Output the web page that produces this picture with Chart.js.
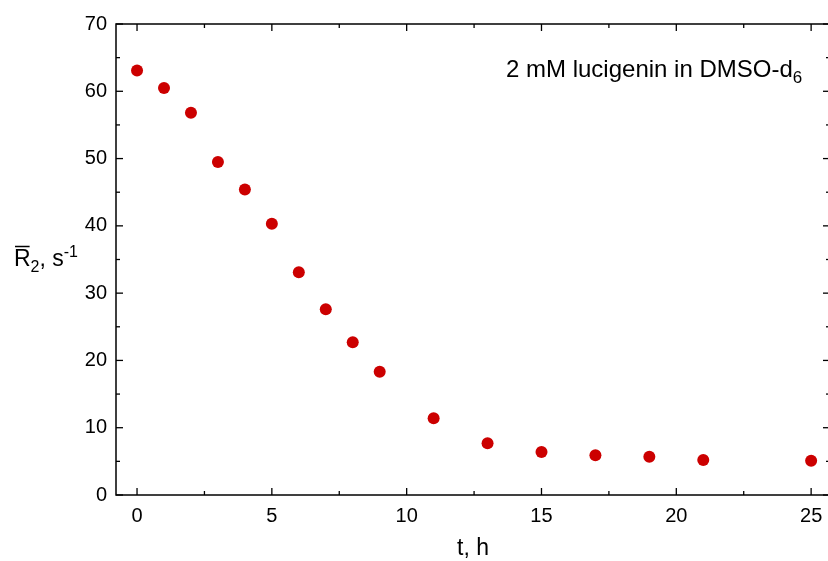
<!DOCTYPE html>
<html>
<head>
<meta charset="utf-8">
<script src="https://cdn.jsdelivr.net/npm/chart.js@4/dist/chart.umd.min.js"></script>
<style>
  html, body { margin: 0; padding: 0; background: #fff; overflow: hidden; }
  #wrap { width: 836px; height: 561px; }
</style>
</head>
<body>
<div id="wrap"><canvas id="chart" width="836" height="561"></canvas></div>
<script>
// time, h
var hours = [0, 1, 2, 3, 4, 5, 6, 7, 8, 9, 11, 13, 15, 17, 19, 21, 25];
// mean R2, s^-1
var r2 = [63.1, 60.5, 56.8, 49.5, 45.4, 40.3, 33.1, 27.6, 22.7, 18.3, 11.4, 7.7, 6.4, 5.9, 5.7, 5.2, 5.1];

var xTicks = [0, 5, 10, 15, 20, 25];
var yTicks = [0, 10, 20, 30, 40, 50, 60, 70];
var xMinorTicks = [2.5, 7.5, 12.5, 17.5, 22.5];
var yMinorTicks = [5, 15, 25, 35, 45, 55, 65];

var fontFamily = "'Liberation Sans', Arial, sans-serif";

var points = [];
for (var i = 0; i < hours.length; i++) {
    points.push({x: hours[i], y: r2[i]});
}

function line(ctx, x1, y1, x2, y2) {
    ctx.beginPath();
    ctx.moveTo(x1, y1);
    ctx.lineTo(x2, y2);
    ctx.stroke();
}

// frame with inward ticks on all four sides, like the original plot
var framePlugin = {
    id: 'frame',
    afterDraw: function(chart) {
        var ctx = chart.ctx;
        var a = chart.chartArea;
        var xs = chart.scales.x, ys = chart.scales.y;
        ctx.save();
        ctx.strokeStyle = '#000';
        ctx.lineWidth = 1.5;
        ctx.strokeRect(a.left, a.top, a.right - a.left, a.bottom - a.top);
        ctx.lineWidth = 1.3;
        xTicks.forEach(function(v) {
            var p = xs.getPixelForValue(v);
            line(ctx, p, a.bottom, p, a.bottom - 7);
            line(ctx, p, a.top, p, a.top + 7);
        });
        xMinorTicks.forEach(function(v) {
            var p = xs.getPixelForValue(v);
            line(ctx, p, a.bottom, p, a.bottom - 4);
            line(ctx, p, a.top, p, a.top + 4);
        });
        yTicks.forEach(function(v) {
            var p = ys.getPixelForValue(v);
            line(ctx, a.left, p, a.left + 7, p);
            line(ctx, a.right, p, a.right - 7, p);
        });
        yMinorTicks.forEach(function(v) {
            var p = ys.getPixelForValue(v);
            line(ctx, a.left, p, a.left + 4, p);
            line(ctx, a.right, p, a.right - 4, p);
        });

        // y axis title: R-bar sub 2, s^-1
        ctx.fillStyle = '#000';
        ctx.textBaseline = 'alphabetic';
        ctx.textAlign = 'left';
        var bx = 14, by = 266;
        ctx.font = '23px ' + fontFamily;
        ctx.fillText('R', bx, by);
        var rw = ctx.measureText('R').width;
        ctx.lineWidth = 1.5;
        line(ctx, bx + 1, by - 19.5, bx + rw - 1, by - 19.5);
        var cx = bx + rw;
        ctx.font = '16px ' + fontFamily;
        ctx.fillText('2', cx, by + 6);
        cx += ctx.measureText('2').width;
        ctx.font = '23px ' + fontFamily;
        ctx.fillText(', s', cx, by);
        cx += ctx.measureText(', s').width;
        ctx.font = '16px ' + fontFamily;
        ctx.fillText('-1', cx, by - 9);

        // annotation
        ctx.font = '24px ' + fontFamily;
        var tx = 506, ty = 77;
        ctx.fillText('2 mM lucigenin in DMSO-d', tx, ty);
        var tw = ctx.measureText('2 mM lucigenin in DMSO-d').width;
        ctx.font = '17px ' + fontFamily;
        ctx.fillText('6', tx + tw, ty + 6);
        ctx.restore();
    }
};

var ctx = document.getElementById('chart').getContext('2d');
var chart = new Chart(ctx, {
    type: 'scatter',
    data: {
        datasets: [{
            label: 'R2',
            data: points,
            backgroundColor: 'rgb(204,0,0)',
            borderWidth: 0,
            pointRadius: 6,
            pointHoverRadius: 6
        }]
    },
    options: {
        responsive: false,
        animation: false,
        layout: { padding: { top: 24, right: 5, left: 0, bottom: 0 } },
        plugins: {
            legend: { display: false },
            tooltip: { enabled: false }
        },
        scales: {
            x: {
                type: 'linear',
                min: -0.78,
                max: 25.7,
                grid: { display: false, drawTicks: false },
                border: { display: false },
                afterBuildTicks: function(scale) {
                    scale.ticks = xTicks.map(function(v) { return {value: v}; });
                },
                afterFit: function(scale) { scale.height = 66; },
                ticks: {
                    color: '#000',
                    padding: 9,
                    maxRotation: 0,
                    font: { family: fontFamily, size: 20 }
                },
                title: {
                    display: true,
                    text: 't, h',
                    color: '#000',
                    padding: { top: 0, bottom: -1 },
                    font: { family: fontFamily, size: 23 }
                }
            },
            y: {
                type: 'linear',
                min: 0,
                max: 70,
                grid: { display: false, drawTicks: false },
                border: { display: false },
                afterBuildTicks: function(scale) {
                    scale.ticks = yTicks.map(function(v) { return {value: v}; });
                },
                afterFit: function(scale) { scale.width = 116; },
                ticks: {
                    color: '#000',
                    padding: 9,
                    font: { family: fontFamily, size: 20 }
                }
            }
        }
    },
    plugins: [framePlugin]
});
</script>
</body>
</html>
